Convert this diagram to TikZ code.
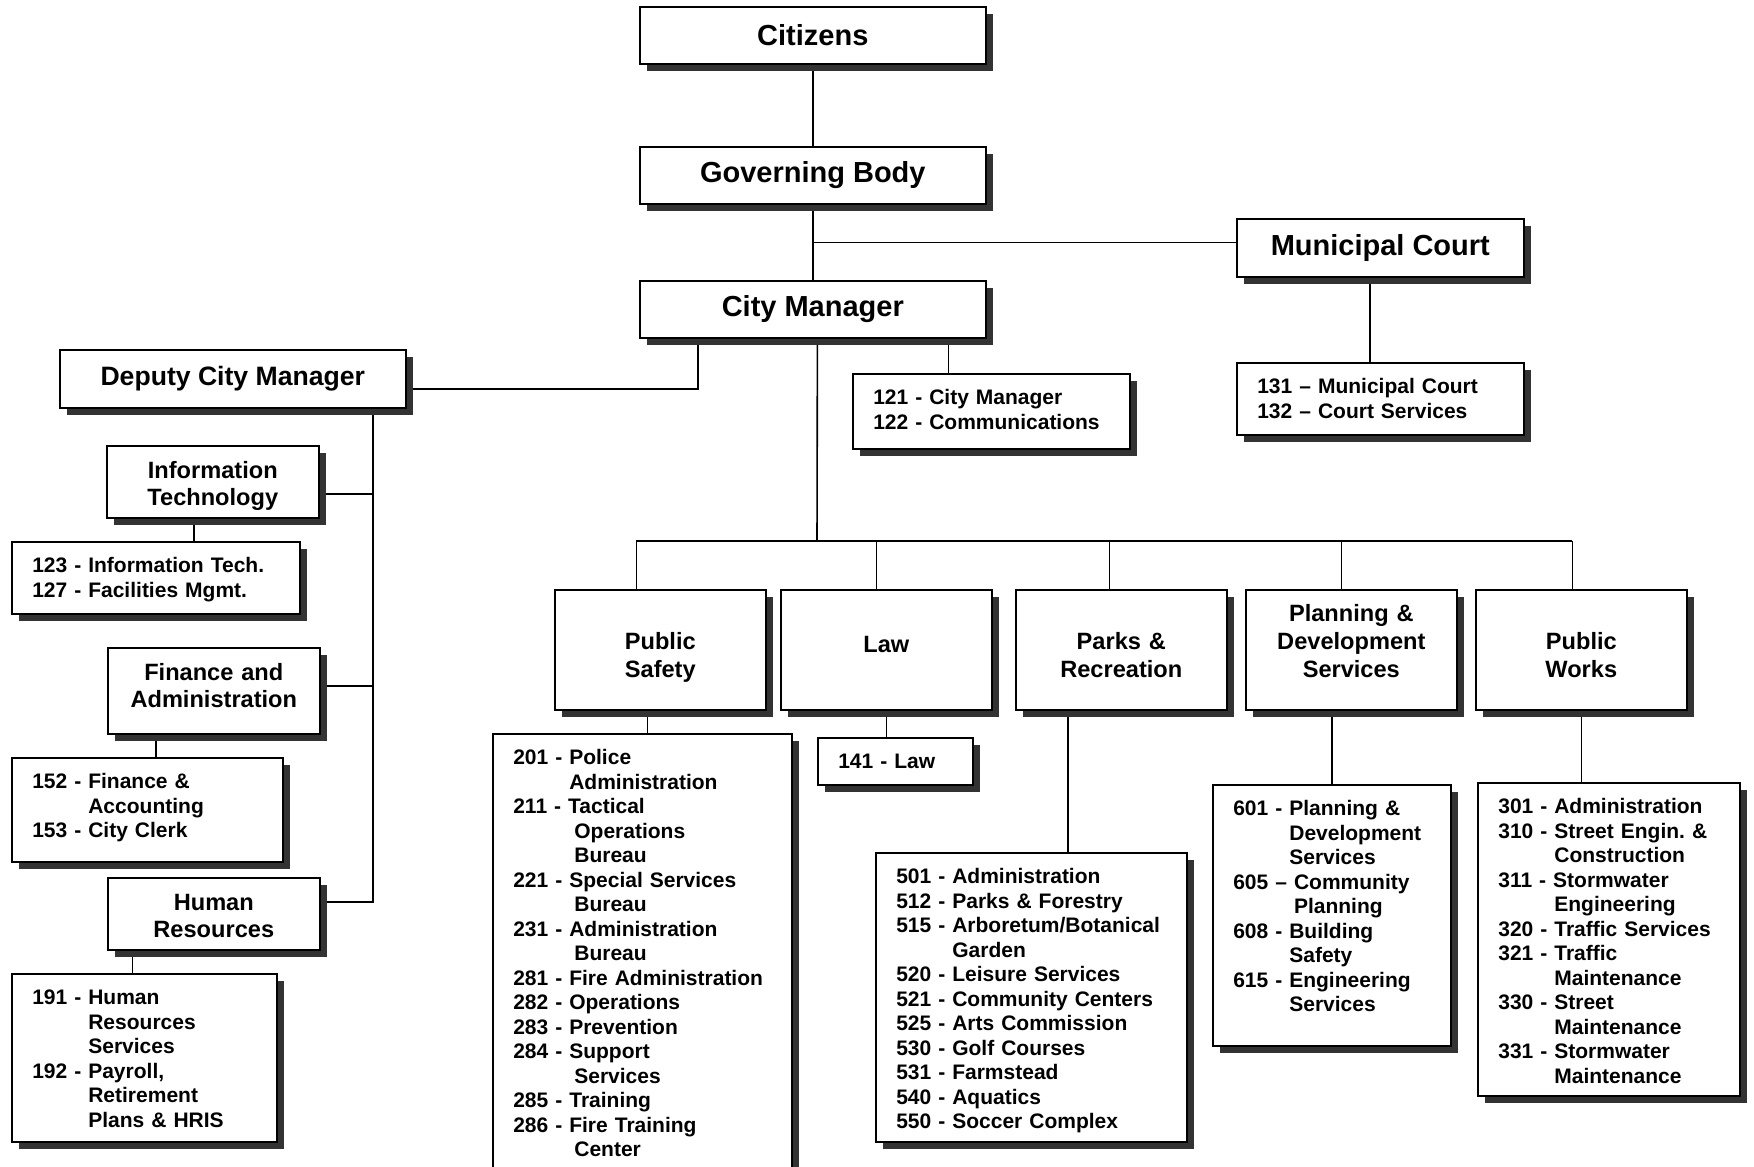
\documentclass[tikz,border=0pt]{standalone}
\usepackage{fontspec}
\setmainfont{Liberation Sans}
\usetikzlibrary{shadows,backgrounds}
\frenchspacing

% continuation lines in the code lists
\newcommand{\contLine}{\phantom{000 - }}
\newcommand{\contLineX}{\phantom{000 - }\hspace{2.5pt}}
\newcommand{\contLineD}{\phantom{000 – }}

\begin{document}
\begin{tikzpicture}[
    x=0.5pt, y=-0.5pt,
    orgBox/.style={
        rectangle, draw=black, fill=white, line width=0.8pt,
        anchor=north west, inner sep=0pt,
        drop shadow={shadow xshift=3.5pt, shadow yshift=-3.5pt,
                     fill=black!80, opacity=1}
    },
    headBox/.style={orgBox, minimum width=173pt, minimum height=28.5pt,
        font=\fontsize{14.5}{17}\selectfont\bfseries},
    officeBox/.style={orgBox, text width=106pt, align=center, text height=16.3pt,
        font=\fontsize{11.8}{13.4}\selectfont\bfseries},
    deptBox/.style={orgBox, text width=105.5pt, align=center,
        font=\fontsize{11.8}{13.9}\selectfont\bfseries},
    listBox/.style={orgBox, align=left, inner xsep=10.25pt, inner ysep=8pt,
        text height=7.5pt, font=\fontsize{10.5}{12.25}\selectfont\bfseries},
    linkLine/.style={draw=black, line width=0.8pt}
]
    \useasboundingbox (0,0) rectangle (1754,1166);

    % --- 1. Top of the chart ---
    \node[headBox] (citizens) at (639, 6) {Citizens};
    \node[headBox] (governing) at (639, 146) {Governing Body};
    \node[headBox] (manager) at (639, 280) {City Manager};
    \node[headBox, minimum width=143.5pt, minimum height=29pt] (court) at (1236, 218) {Municipal Court};
    \node[headBox, minimum height=29pt, font=\fontsize{13.3}{16}\selectfont\bfseries] (deputy) at (59, 349) {Deputy City Manager};

    \node[listBox, text width=118pt, text depth=14pt] (mgrlist) at (852, 373) {
        121 - City Manager\\
        122 - Communications
    };
    \node[listBox, text width=123pt, text depth=12.5pt] (courtlist) at (1236, 362) {
        131 – Municipal Court\\
        132 – Court Services
    };

    % --- 2. Deputy City Manager offices ---
    \node[officeBox, text depth=19.7pt] (it) at (106, 445) {Information\\Technology};
    \node[listBox, text width=123.5pt, text depth=12.5pt] (itlist) at (11, 541) {
        123 - Information Tech.\\
        127 - Facilities Mgmt.
    };

    \node[officeBox, text depth=26.7pt] (finance) at (107, 647) {Finance and\\Administration};
    \node[listBox, text width=115pt, text depth=28.5pt] (finlist) at (11, 757) {
        152 - Finance \&\\
        \contLine Accounting\\
        153 - City Clerk
    };

    \node[officeBox, text depth=19.7pt] (hr) at (107, 877) {Human\\Resources};
    \node[listBox, text width=112pt, text depth=60.5pt] (hrlist) at (11, 973) {
        191 - Human\\
        \contLine Resources\\
        \contLine Services\\
        192 - Payroll,\\
        \contLine Retirement\\
        \contLine Plans \& HRIS
    };

    % --- 3. Departments ---
    \node[deptBox, text height=30pt, text depth=30pt] (ps) at (554, 589) {Public\\Safety};
    \node[deptBox, text height=31.5pt, text depth=28.5pt] (law) at (780, 589) {Law};
    \node[deptBox, text height=30pt, text depth=30pt] (parks) at (1015, 589) {Parks \&\\Recreation};
    \node[deptBox, text height=16pt, text depth=44pt] (plan) at (1245, 589) {Planning \&\\Development\\Services};
    \node[deptBox, text height=30pt, text depth=30pt] (pw) at (1475, 589) {Public\\Works};

    \node[listBox, text width=129pt, text depth=230pt] (pslist) at (492, 733) {
        201 - Police\\
        \contLine Administration\\
        211 - Tactical\\
        \contLineX Operations\\
        \contLineX Bureau\\
        221 - Special Services\\
        \contLineX Bureau\\
        231 - Administration\\
        \contLineX Bureau\\
        281 - Fire Administration\\
        282 - Operations\\
        283 - Prevention\\
        284 - Support\\
        \contLineX Services\\
        285 - Training\\
        286 - Fire Training\\
        \contLineX Center
    };
    \node[listBox, text width=57pt, text depth=0pt] (lawlist) at (817, 737) {141 - Law};
    \node[listBox, text width=135pt, text depth=121pt] (parkslist) at (875, 852) {
        501 - Administration\\
        512 - Parks \& Forestry\\
        515 - Arboretum/Botanical\\
        \contLine Garden\\
        520 - Leisure Services\\
        521 - Community Centers\\
        525 - Arts Commission\\
        530 - Golf Courses\\
        531 - Farmstead\\
        540 - Aquatics\\
        550 - Soccer Complex
    };
    \node[listBox, text width=98.5pt, text depth=107pt] (planlist) at (1212, 784) {
        601 - Planning \&\\
        \contLine Development\\
        \contLine Services\\
        605 – Community\\
        \contLineD Planning\\
        608 - Building\\
        \contLine Safety\\
        615 - Engineering\\
        \contLine Services
    };
    \node[listBox, text width=110.5pt, text depth=133pt] (pwlist) at (1477, 782) {
        301 - Administration\\
        310 - Street Engin. \&\\
        \contLine Construction\\
        311 - Stormwater\\
        \contLine Engineering\\
        320 - Traffic Services\\
        321 - Traffic\\
        \contLine Maintenance\\
        330 - Street\\
        \contLine Maintenance\\
        331 - Stormwater\\
        \contLine Maintenance
    };

    % --- 4. Connectors ---
    \begin{scope}[on background layer]
        \fill[white] (0,0) rectangle (1754,1166);

        \draw[linkLine] (citizens) -- (governing);
        \draw[linkLine] (governing) -- (manager);
        \draw[linkLine] ([yshift=2.65pt]court.west) -- ([yshift=2.65pt]court.west -| governing.south);
        \draw[linkLine] ([xshift=-5.25pt]court.south) -- ([xshift=-5.25pt]courtlist.north);
        \draw[linkLine] ([xshift=67.75pt]manager.south) -- ([xshift=67.75pt]manager.south |- mgrlist.north);
        \draw[linkLine] ([xshift=-57.5pt]manager.south) |- ([yshift=-5pt]deputy.east);

        % deputy spine
        \coordinate (spine) at ([xshift=70pt]deputy.south);
        \draw[linkLine] (spine) |- ([yshift=6pt]hr.east);
        \draw[linkLine] ([yshift=-6pt]it.east) -- ([yshift=-6pt]it.east -| spine);
        \draw[linkLine] ([yshift=2.5pt]finance.east) -- ([yshift=2.5pt]finance.east -| spine);
        \draw[linkLine] ([xshift=-9.5pt]it.south) -- ([xshift=-9.5pt]it.south |- itlist.north);
        \draw[linkLine] ([xshift=-28.85pt]finance.south) -- ([xshift=-28.85pt]finance.south |- finlist.north);
        \draw[linkLine] ([xshift=-40.65pt]hr.south) -- ([xshift=-40.65pt]hr.south |- hrlist.north);

        % department bus
        \coordinate (bus) at (817, 541);
        \draw[linkLine] ([xshift=2.3pt]manager.south) -- (bus);
        \draw[linkLine] ([xshift=-12pt]ps.north |- bus) -- ([xshift=-4.5pt]pw.north |- bus);
        \foreach \dept/\shift in {ps/-12pt, law/-5pt, parks/-6pt, plan/-5pt, pw/-4.5pt}
            \draw[linkLine] ([xshift=\shift]\dept.north) -- ([xshift=\shift]\dept.north |- bus);

        \draw[linkLine] ([xshift=2.5pt]pslist.north) -- ([xshift=2.5pt]pslist.north |- ps.south);
        \draw[linkLine] (law.south) -- (law.south |- lawlist.north);
        \draw[linkLine] ([xshift=-26.75pt]parks.south) -- ([xshift=-26.75pt]parks.south |- parkslist.north);
        \draw[linkLine] (planlist.north) -- (planlist.north |- plan.south);
        \draw[linkLine] (pw.south) -- (pw.south |- pwlist.north);
    \end{scope}
\end{tikzpicture}
\end{document}
